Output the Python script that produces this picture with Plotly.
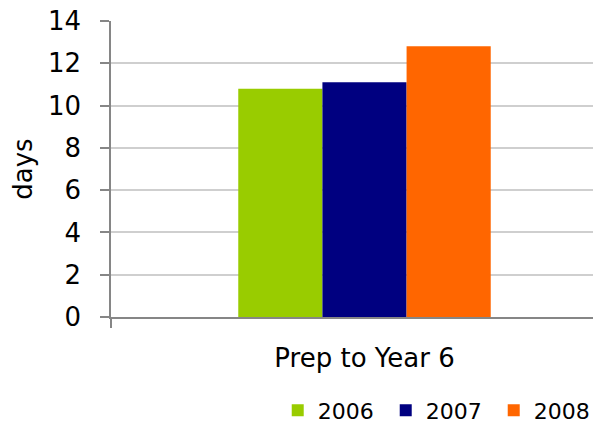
import plotly.graph_objects as go

# Average absence days, one category, three years
categories = ["Prep to Year 6"]
years = ["2006", "2007", "2008"]
values_2006 = [10.8]
values_2007 = [11.1]
values_2008 = [12.8]
colors = ["#99cc00", "#000080", "#ff6600"]

series = [values_2006, values_2007, values_2008]

fig = go.Figure()
for name, vals, col in zip(years, series, colors):
    fig.add_trace(go.Bar(
        x=categories, y=vals, name=name,
        marker=dict(color=col, line=dict(width=0)),
    ))

FONT = "DejaVu Sans, Arial, sans-serif"

fig.update_layout(
    width=593, height=425,
    margin=dict(l=111, r=0, t=21, b=108, autoexpand=False),
    paper_bgcolor="white", plot_bgcolor="white",
    barmode="group", bargap=0.502, bargroupgap=0,
    font=dict(family=FONT, color="black"),
    showlegend=True,
    legend=dict(
        orientation="h", x=0.3459, y=-0.245, xanchor="left", yanchor="top",
        font=dict(size=22, family=FONT, color="black"),
        bgcolor="rgba(0,0,0,0)", borderwidth=0,
        traceorder="normal",
        entrywidth=63, entrywidthmode="pixels",
    ),
)

fig.update_xaxes(
    type="category", range=[-0.5, 0.4507],
    showline=True, linecolor="#868686", linewidth=1.5,
    tickson="boundaries", ticks="outside", ticklen=9, tickcolor="#868686", tickwidth=1.5,
    tickfont=dict(size=26, family=FONT, color="black"),
    ticklabelstandoff=17,
    showgrid=False, zeroline=False,
)

fig.update_yaxes(
    range=[0, 14], dtick=2, tick0=0,
    showline=True, linecolor="#868686", linewidth=1.5,
    ticks="outside", ticklen=9, tickcolor="#868686", tickwidth=1.5,
    tickfont=dict(size=26, family=FONT, color="black"),
    ticklabelstandoff=14,
    showgrid=True, gridcolor="#cfcfcf", gridwidth=1.5,
    zeroline=False,
    title=dict(text="days", font=dict(size=26, family=FONT, color="black"), standoff=8),
)

fig.write_html("out.html")
